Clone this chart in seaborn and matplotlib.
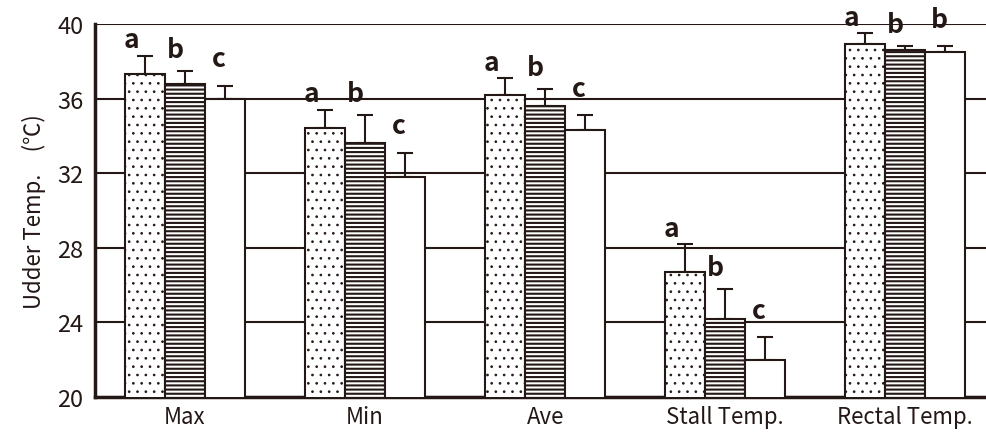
import numpy as np
import pandas as pd
import matplotlib
matplotlib.use("Agg")
import matplotlib.pyplot as plt
import seaborn as sns

# data
categories = ['Max', 'Min', 'Ave', 'Stall Temp.', 'Rectal Temp.']
groups = ['A', 'B', 'C']
means_a = [37.3, 34.4, 36.2, 26.7, 38.9]
means_b = [36.8, 33.6, 35.6, 24.2, 38.6]
means_c = [36.0, 31.8, 34.3, 22.0, 38.5]
err_a = [1.0, 1.0, 0.9, 1.5, 0.6]
err_b = [0.7, 1.5, 0.9, 1.6, 0.2]
err_c = [0.7, 1.3, 0.8, 1.2, 0.3]
letters_a = ['a', 'a', 'a', 'a', 'a']
letters_b = ['b', 'b', 'b', 'b', 'b']
letters_c = ['c', 'c', 'c', 'c', 'b']

sns.set_style("white")
plt.rcParams['font.family'] = ['Noto Sans CJK JP', 'DejaVu Sans']
plt.rcParams['hatch.linewidth'] = 1.5
plt.rcParams['hatch.color'] = '#231815'

df = pd.DataFrame({
    'cat': categories * 3,
    'grp': [g for g in groups for _ in categories],
    'val': means_a + means_b + means_c,
})

fig = plt.figure(figsize=(9.87, 4.39), dpi=100)
ax = fig.add_axes([0.0963, 0.0934, 0.912, 0.8497])

ink = '#231815'
sns.barplot(data=df, x='cat', y='val', hue='grp', order=categories,
            hue_order=groups, width=0.667, palette=['white'] * 3,
            edgecolor=ink, linewidth=1.5, errorbar=None, legend=False,
            ax=ax, zorder=3)

hatches = ['..', '----', '']
hatch_lw = [0.7, 1.5, 1.5]
letter_dx = [-0.075, -0.055, -0.035]
letter_dy = [0.45, 0.75, 1.05]
errs = [err_a, err_b, err_c]
means = [means_a, means_b, means_c]
letters = [letters_a, letters_b, letters_c]
bar_conts = list(ax.containers)
for gi, cont in enumerate(bar_conts):
    xs = []
    for p in cont.patches:
        p.set_hatch(hatches[gi])
        if hasattr(p, 'set_hatch_linewidth'):
            p.set_hatch_linewidth(hatch_lw[gi])
        xs.append(p.get_x() + p.get_width() / 2)
    xs = np.array(xs)
    ax.errorbar(xs, means[gi], yerr=[np.zeros(5), errs[gi]], fmt='none',
                ecolor=ink, elinewidth=1.5, capsize=6, capthick=1.5, zorder=2)
    for x, m, e, t in zip(xs, means[gi], errs[gi], letters[gi]):
        ax.text(x + letter_dx[gi], m + e + letter_dy[gi], t, ha='center',
                va='baseline', fontsize=19, fontweight='bold', color=ink,
                zorder=4)

ax.set_ylim(20, 40)
ax.set_xlim(-0.5, 4.5)
ax.set_yticks([20, 24, 28, 32, 36, 40])
ax.set_xticks([-0.5, 0.5, 1.5, 2.5, 3.5], minor=True)
ax.tick_params(axis='x', which='minor', length=5, width=2, color=ink, direction='out')
ax.tick_params(axis='x', which='major', length=0, labelsize=16, pad=6, labelcolor=ink)
ax.tick_params(axis='y', length=5, width=2, color=ink, labelsize=17, labelcolor=ink)
ax.yaxis.grid(True, color=ink, linewidth=1.5, zorder=0)
ax.set_axisbelow(True)
for s in ['top', 'right']:
    ax.spines[s].set_visible(False)
for s in ['left', 'bottom']:
    ax.spines[s].set_color(ink)
    ax.spines[s].set_linewidth(2.5)
ax.set_xlabel('')
ax.set_ylabel('Udder Temp.\u3000(\u2103)', fontsize=16, color=ink, labelpad=8)

fig.savefig('out.png', dpi=100)
